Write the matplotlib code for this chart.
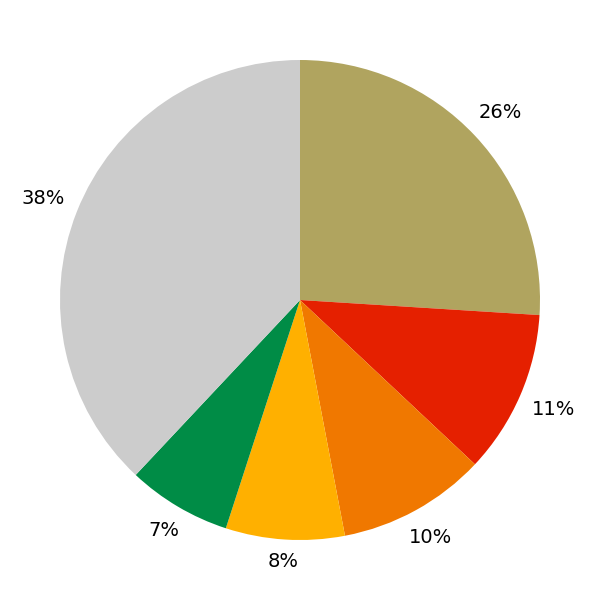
import matplotlib
matplotlib.use('Agg')
import numpy as np
import matplotlib.pyplot as plt

shares = [26, 11, 10, 8, 7, 38]
colors = ['#B0A45F', '#E52000', '#F07800', '#FFB000', '#008C46', '#CCCCCC']

fig = plt.figure(figsize=(6, 6), dpi=100)
ax = fig.add_axes([0, 0, 1, 1])
wedges, texts, autotexts = ax.pie(shares, colors=colors, startangle=90, counterclock=False,
                                  autopct='%1.0f%%', pctdistance=1.1,
                                  textprops={'fontsize': 14, 'color': 'black'})
ax.set_aspect('equal')

# push each label out so its box just clears a ring slightly outside the pie
fig.canvas.draw()
renderer = fig.canvas.get_renderer()
px_per_unit = ax.transData.transform((1, 0))[0] - ax.transData.transform((0, 0))[0]
ring = 1.058
for w, t in zip(wedges, autotexts):
    mid = np.deg2rad((w.theta1 + w.theta2) / 2)
    ux, uy = np.cos(mid), np.sin(mid)
    bb = t.get_window_extent(renderer)
    hw = bb.width / 2 / px_per_unit
    hh = bb.height / 2 / px_per_unit * 0.75
    dist = ring + hw * abs(ux) + hh * abs(uy)
    t.set_position((dist * ux, dist * uy))
    t.set_ha('center')
    t.set_va('center')

fig.savefig('out.png', dpi=100)
